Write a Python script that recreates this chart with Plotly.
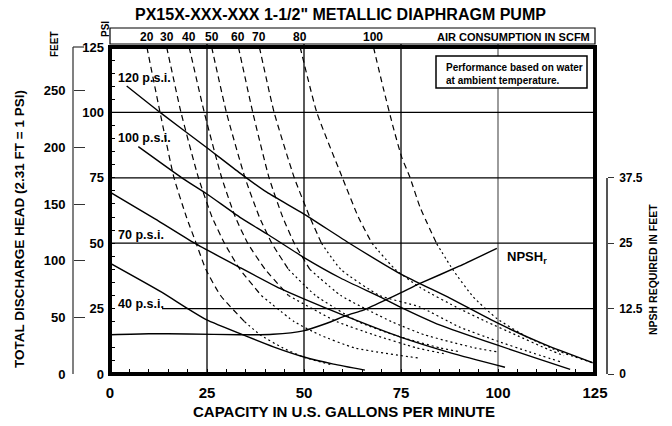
import plotly.graph_objects as go

# ---------------- data ----------------
capacity_ticks = [0, 25, 50, 75, 100, 125]
capacity_tick_labels = ["0", "25", "50", "75", "100", "125"]
psi_ticks = [0, 25, 50, 75, 100, 125]
psi_tick_labels = ["0", "25", "50", "75", "100", "125"]
feet_ticks = [0, 50, 100, 150, 200, 250]
feet_tick_labels = ["0", "50", "100", "150", "200", "250"]
npsh_ticks = [0, 12.5, 25, 37.5]
npsh_tick_labels = ["0", "12.5", "25", "37.5"]
FT_PER_PSI = 2.31
PSI_MAX = 125
GPM_MAX = 125

# pressure (inlet air) curves: capacity (gpm) vs discharge head (psi)
p120_gpm = [4.3, 12.9, 24.9, 33.5, 40.4, 49.8, 61.9, 74.7, 87.6, 99.7, 112, 124.4]
p120_psi = [110.1, 100, 86.6, 76.8, 69.5, 61.3, 49.8, 38.4, 29.0, 19.6, 11.3, 4.3]
p100_gpm = [7.3, 18.8, 24.9, 33.5, 40.4, 49.8, 59.5, 69.6, 74.7, 85.1, 99.7, 110, 118.6]
p100_psi = [86.9, 74.7, 68.9, 59.9, 53.6, 44.7, 36.6, 29.5, 25.7, 18.7, 11.1, 6.0, 1.8]
p70_gpm = [0, 11.6, 21.8, 33.5, 43.8, 49.8, 60.1, 74.7, 88, 101.8]
p70_psi = [69.5, 59.3, 50, 40.7, 32.7, 28.8, 22.5, 14.2, 8.0, 2.6]
p40_gpm = [0, 13.2, 19.7, 24.8, 35.6, 42.1, 49.8, 57.6, 65.7]
p40_psi = [42.4, 31.4, 25.3, 20.8, 14.2, 10.4, 6.6, 3.8, 1.5]
pressure_labels = ["120 p.s.i.", "100 p.s.i.", "70 p.s.i.", "40 p.s.i."]

# air consumption curves (SCFM)
air_labels = ["20", "30", "40", "50", "60", "70", "80", "100"]
air20_gpm = [9.5, 12.9, 16.5, 19.7, 22.2, 24.7, 28.5, 34.7, 38.7, 44.5, 50.0, 57.0]
air20_psi = [125, 100, 75, 60, 50, 40, 30, 20, 15, 10, 6.4, 3.6]
air30_gpm = [14.6, 18.3, 22.8, 26.3, 29.5, 33.5, 39.0, 47.5, 54.0, 63.0, 79.9]
air30_psi = [125, 100, 75, 60, 50, 40, 30, 20, 15, 10, 6.0]
air40_gpm = [20.4, 24.3, 28.8, 32.3, 35.5, 40.0, 46.0, 58.5, 68.0, 79.0, 86.0]
air40_psi = [125, 100, 75, 60, 50, 40, 30, 20, 15, 10, 7.8]
air50_gpm = [26.2, 30.0, 34.8, 38.5, 41.7, 46.0, 53.0, 64.0, 73.0, 85.0, 90.2]
air50_psi = [125, 100, 75, 60, 50, 40, 30, 20, 15, 10, 8.5]
air60_gpm = [33.1, 36.8, 41.0, 44.5, 47.5, 51.5, 59.5, 72.6, 81.0, 94.0, 99.7]
air60_psi = [125, 100, 75, 60, 50, 40, 30, 20, 15, 10, 8.5]
air70_gpm = [38.5, 42.3, 47.5, 51.5, 54.5, 59.5, 69.5, 79.9, 90.0, 100.0, 108.0, 116.0]
air70_psi = [125, 100, 75, 60, 50, 40, 30, 25.6, 18, 12.5, 8.5, 4.7]
air80_gpm = [49.0, 53.3, 59.9, 64.0, 67.5, 73.5, 80.0, 90.0, 97.0, 104.5, 112.0, 117.0]
air80_psi = [125, 100, 75, 60, 50, 40, 33, 25, 20, 15, 10, 7]
air100_gpm = [67.9, 70.4, 73.0, 75.2, 77.3, 79.9, 84.2, 88.5, 93.6, 99.7, 107.4, 116.0, 124.4]
air100_psi = [125, 109.5, 94.3, 82.8, 75.2, 63.8, 49.8, 39.6, 29.5, 21.2, 14.2, 8.5, 4.3]

# NPSH required (feet)
npsh_gpm = [0, 10, 20, 33.5, 42, 49.8, 55.9, 61, 65.3, 70.9, 74.9, 79.9, 90, 99.7]
npsh_ft = [7.5, 7.7, 7.65, 7.5, 7.6, 8.25, 9.7, 11.2, 12.2, 14.1, 15.5, 17.3, 20.6, 24.0]

# ---------------- layout helpers (pixel geometry of the 672x426 page) ----------------
W, H = 672, 426
PL, PR, PT, PB = 110, 595, 47, 374


def px(x):
    return x / W


def py(y):
    return 1 - y / H


FONT = "Liberation Sans, Arial, Helvetica, sans-serif"
BLACK = "black"
CLEAR = "rgba(0,0,0,0)"

fig = go.Figure()

solid = dict(color=BLACK, width=1.4, shape="spline", smoothing=0.5)
for gx, gy in [(p120_gpm, p120_psi), (p100_gpm, p100_psi), (p70_gpm, p70_psi), (p40_gpm, p40_psi)]:
    fig.add_trace(go.Scatter(x=gx, y=gy, mode="lines", line=solid,
                             hoverinfo="skip", showlegend=False))

air_curves = [(air20_gpm, air20_psi), (air30_gpm, air30_psi), (air40_gpm, air40_psi),
              (air50_gpm, air50_psi), (air60_gpm, air60_psi), (air70_gpm, air70_psi),
              (air80_gpm, air80_psi), (air100_gpm, air100_psi)]
# psi at which each dashed curve turns dotted (style)
dash_to_dot_psi = [20, 30, 30, 40, 40, 50, 50, 49.8]
for (gx, gy), split in zip(air_curves, dash_to_dot_psi):
    k = next(i for i, v in enumerate(gy) if v <= split)
    fig.add_trace(go.Scatter(x=gx[:k + 1], y=gy[:k + 1], mode="lines",
                             line=dict(color=BLACK, width=1.2, dash="6px,4px",
                                       shape="spline", smoothing=0.5),
                             hoverinfo="skip", showlegend=False))
    fig.add_trace(go.Scatter(x=gx[k:], y=gy[k:], mode="lines",
                             line=dict(color=BLACK, width=1.2, dash="2px,3px",
                                       shape="spline", smoothing=0.5),
                             hoverinfo="skip", showlegend=False))

# NPSH curve on its own axis
fig.add_trace(go.Scatter(x=npsh_gpm, y=npsh_ft, mode="lines", yaxis="y3",
                         line=solid, hoverinfo="skip", showlegend=False))
# invisible trace so the feet axis is drawn
fig.add_trace(go.Scatter(x=[0, 0], y=[0, PSI_MAX * FT_PER_PSI], mode="lines", yaxis="y2",
                         line=dict(color=CLEAR, width=0), hoverinfo="skip",
                         showlegend=False))

xdom = [px(PL), px(PR)]
ydom = [py(PB), py(PT)]
npsh_top = ydom[0] + (ydom[1] - ydom[0]) * (npsh_ticks[-1] * 2 / PSI_MAX)

fig.update_layout(
    width=W, height=H,
    margin=dict(l=0, r=0, t=0, b=0, pad=0),
    paper_bgcolor="white", plot_bgcolor=CLEAR,
    font=dict(family=FONT, color=BLACK),
    showlegend=False,
    xaxis=dict(domain=xdom, range=[0, GPM_MAX], tickvals=capacity_ticks,
               ticktext=capacity_tick_labels, ticks="", showgrid=False, zeroline=False,
               showline=False, tickfont=dict(size=15, weight="bold"),
               ticklabelstandoff=8, automargin=False,
               minor=dict(dtick=5, ticks="inside", ticklen=5, tickcolor=BLACK,
                          tickwidth=1, showgrid=False)),
    yaxis=dict(domain=ydom, range=[0, PSI_MAX], tickvals=psi_ticks,
               ticktext=psi_tick_labels, ticks="", showgrid=False, zeroline=False,
               showline=False, tickfont=dict(size=13, weight="bold"),
               ticklabelstandoff=5, automargin=False,
               minor=dict(dtick=5, ticks="inside", ticklen=5, tickcolor=BLACK,
                          tickwidth=1, showgrid=False)),
    yaxis2=dict(range=[0, PSI_MAX * FT_PER_PSI], overlaying="y",
                anchor="free", position=px(73), side="left",
                tickvals=feet_ticks, ticktext=feet_tick_labels,
                ticks="inside", ticklen=11, tickwidth=1.2, tickcolor="#333",
                showline=True, linecolor="#808080", linewidth=2,
                showgrid=False, zeroline=False, automargin=False,
                tickfont=dict(size=13, weight="bold"), ticklabelstandoff=4),
    yaxis3=dict(domain=[ydom[0], npsh_top], range=[0, npsh_ticks[-1]],
                anchor="free", position=px(607), side="right",
                tickvals=npsh_ticks, ticktext=npsh_tick_labels,
                ticks="outside", ticklen=6, tickwidth=1.2, tickcolor="#333",
                showline=True, linecolor="#555", linewidth=1.5,
                showgrid=False, zeroline=False, automargin=False,
                tickfont=dict(size=12, weight="bold"), ticklabelstandoff=3),
)

shapes = []
# vertical grid lines (run up to the air-consumption strip)
for v in capacity_ticks[1:-1]:
    shapes.append(dict(type="line", xref="x", yref="paper", x0=v, x1=v,
                       y0=py(PB), y1=py(44),
                       line=dict(color="#666" if v == 100 else BLACK, width=1.3),
                       layer="below"))
# horizontal grid lines
for h in psi_ticks[1:-1]:
    shapes.append(dict(type="line", xref="x", yref="y", x0=13.4 if h == 25 else 0,
                       x1=GPM_MAX, y0=h, y1=h,
                       line=dict(color=BLACK, width=1.3), layer="below"))
# top tick of the feet scale (at 125 psi)
shapes.append(dict(type="line", xref="paper", yref="paper", x0=px(73), x1=px(84),
                   y0=py(PT), y1=py(PT), line=dict(color="#333", width=1.2)))
# air consumption strip
shapes.append(dict(type="rect", xref="paper", yref="paper", x0=px(PL), x1=px(PR),
                   y0=py(44), y1=py(28), line=dict(color=BLACK, width=1.2)))
# performance note box
shapes.append(dict(type="rect", xref="paper", yref="paper", x0=px(436), x1=px(587),
                   y0=py(88), y1=py(56), fillcolor="white",
                   line=dict(color=BLACK, width=1.5), layer="above"))
# heavy frame
shapes.append(dict(type="rect", xref="paper", yref="paper", x0=px(PL), x1=px(PR),
                   y0=py(PB), y1=py(PT), line=dict(color=BLACK, width=4), layer="above"))

ann = []


def text(x, y, s, size, xref="paper", yref="paper", xanchor="center", yanchor="middle",
         angle=0, align="center"):
    ann.append(dict(x=x, y=y, xref=xref, yref=yref, text=s, showarrow=False,
                    xanchor=xanchor, yanchor=yanchor, textangle=angle, align=align,
                    font=dict(size=size, family=FONT, color=BLACK, weight="bold")))


text(px(340), py(14), 'PX15X-XXX-XXX 1-1/2" METALLIC DIAPHRAGM PUMP', 16)
text(px(344), py(411), "CAPACITY IN U.S. GALLONS PER MINUTE", 15)
text(px(19), py(229), "TOTAL DISCHARGE HEAD (2.31 FT = 1 PSI)", 13.5, angle=-90)
text(px(54), py(44), "FEET", 10, angle=-90)
text(px(106), py(29), "PSI", 10, angle=-90)
text(px(653), py(270), "NPSH REQUIRED IN FEET", 10.5, angle=-90)
# air consumption labels at the top of each curve
for lab, (gx, gy) in zip(air_labels, air_curves):
    text(gx[0], py(37), lab, 12, xref="x")
text(px(592), py(37), "AIR CONSUMPTION IN SCFM", 11, xanchor="right")
# pressure labels
for lab, yv in zip(pressure_labels, [113.3, 90.4, 53.3, 26.9]):
    text(1.5, yv, lab, 12.5, xref="x", yref="y", xanchor="left")
text(107.5, 44.7, "NPSH<sub>r</sub>", 13, xref="x", yref="y")
text(px(444), py(73.5), "Performance based on water<br>at ambient temperature.", 10,
     xanchor="left", align="left")

fig.update_layout(shapes=shapes, annotations=ann)
fig.write_html("out.html", config={"displayModeBar": False},
               post_script="document.body.style.margin='0px';document.body.style.padding='0px';")
